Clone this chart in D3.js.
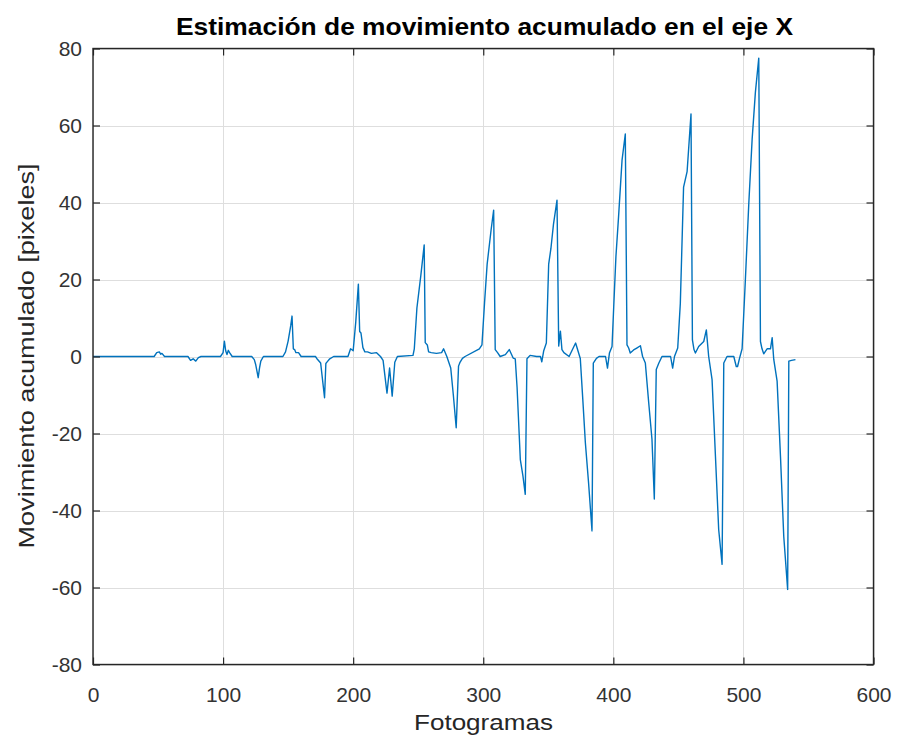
<!DOCTYPE html>
<html>
<head>
<meta charset="utf-8">
<script src="https://cdn.jsdelivr.net/npm/d3@7"></script>
<style>
  html, body { margin: 0; padding: 0; background: #ffffff; }
  svg { display: block; }
</style>
</head>
<body>
<svg id="chart" width="898" height="743"></svg>
<script>
// ---- Data ----
const frames = [
  0, 47, 49, 51, 52, 53, 55, 73, 75, 77, 79, 81, 83,
  98, 100, 101, 102, 103, 104, 105, 107, 122, 124, 125, 127, 128, 129, 131,
  146, 148, 150, 152, 153, 154, 155, 156, 158, 160,
  171, 172, 175, 178, 179, 180, 182, 185,
  196, 198, 200, 202, 204, 205, 206, 207.5, 209, 211, 214, 218, 221,
  223, 226, 228, 230, 232, 234,
  246, 247, 249, 252, 254.6, 255.4, 257, 258, 260, 264, 268, 269.5, 272,
  275, 277, 279.2, 281, 282, 284, 286,
  297, 299, 301, 303, 306, 308, 309.2, 311, 313, 317, 320, 323,
  324.6, 326, 328.5, 330.5, 332.3, 333.6, 336, 341, 344, 345, 346.5, 348.5,
  350.3, 352, 354, 356.7, 358, 359.3, 360.5, 362, 366, 371,
  374.6, 376.5, 378.5, 381, 383.6, 384.6, 387, 389, 394, 395.5, 397, 399,
  400.3, 402, 404, 406.7, 409.2, 410.5, 411.8, 413, 415.6, 418, 420.8, 422.5,
  424.6, 427.2, 429.7, 431.5, 433, 435, 437.4, 441, 444, 445.6, 447, 449.5,
  451.5, 454, 456.7, 459.7, 460.8, 462, 463.1, 465.6, 469.5, 471.5,
  473.3, 475.9, 478.5, 481, 483.6, 484.9, 487.4, 492.6, 494.5, 495.5, 497, 499,
  501.5, 504.1, 506.7, 509.2, 511.8, 513.1, 514.3, 515.6, 518.2, 520.8, 522.1,
  523.3, 525.9, 528.5, 531, 534, 534.9, 537, 540
];
const values = [
  0, 0, 1, 1.2, 0.6, 0.8, 0, 0, -1, -0.6, -1.2, -0.3, 0,
  0, 1, 4, 1.5, 0.5, 1.6, 1, 0, 0, -0.8, -2, -5.5, -3, -1.2, 0,
  0, 1.2, 4, 8, 10.5, 2, 1.8, 1, 1, 0,
  0, -0.5, -1.7, -10.7, -1.8, -1.4, -0.6, 0,
  0, 2, 1.5, 9, 18.8, 6.5, 6.1, 2.3, 1.2, 1.2, 0.8, 1, 0,
  -1, -9.5, -3, -10.3, -1.5, 0,
  0.3, 2, 12.6, 21, 29, 3.6, 3, 1.2, 1, 0.8, 1, 2, 0,
  -3, -10, -18.5, -2.5, -1.6, -0.5, 0,
  2, 3, 14, 24, 32.8, 38, 1.8, 1, 0, 0.5, 1.8, -0.4,
  -0.6, -8, -26.8, -31, -35.8, -0.6, 0.3, 0, 0, -1.4, 1.5, 3.5,
  24, 28, 34.4, 40.6, 2.7, 6.6, 1.8, 1, 0, 3.5,
  -0.5, -11, -22.4, -33, -45.3, -1.7, -0.5, 0, 0, -3, 0.9, 2.6,
  12.9, 26, 36.2, 51, 57.8, 3, 2.2, 0.9, 1.7, 2.2, 2.8, 0,
  -1.7, -12, -21.5, -37, -3.4, -1.7, 0, 0, 0, -3, 0, 2.2,
  13.8, 44, 48, 63, 4.3, 1.8, 0.9, 2.6, 3.9, 6.9,
  0, -6, -25.9, -45, -54, -1.7, 0, 0, -2.6, -2.6, -0.5, 2,
  19.9, 39.5, 56.4, 68.6, 77.5, 3.9, 2, 0.7, 2, 2, 4.9,
  -0.7, -6.4, -26, -46.7, -60.5, -1.2, -1, -0.8
];
const xTicks = [0, 100, 200, 300, 400, 500, 600];
const yTicks = [-80, -60, -40, -20, 0, 20, 40, 60, 80];
const titleText = "Estimación de movimiento acumulado en el eje X";
const xLabelText = "Fotogramas";
const yLabelText = "Movimiento acumulado [pixeles]";

// ---- Layout ----
const svg = d3.select("#chart");
const L = 93, R = 873.5, T = 48.5, B = 664.5;
const x = d3.scaleLinear().domain([0, 600]).range([L, R]);
const y = d3.scaleLinear().domain([-80, 80]).range([B, T]);
const axisColor = "#262626";
const font = "'Liberation Sans', Arial, Helvetica, sans-serif";
const fmt = d => String(d);

// grid
const grid = svg.append("g");
grid.selectAll("line.gx").data(xTicks).enter().append("line")
  .attr("x1", d => Math.round(x(d)) + 0.5).attr("x2", d => Math.round(x(d)) + 0.5)
  .attr("y1", T).attr("y2", B)
  .attr("stroke", "#dedede").attr("stroke-width", 1);
grid.selectAll("line.gy").data(yTicks).enter().append("line")
  .attr("y1", d => Math.round(y(d)) + 0.5).attr("y2", d => Math.round(y(d)) + 0.5)
  .attr("x1", L).attr("x2", R)
  .attr("stroke", "#dedede").attr("stroke-width", 1);

// data line
const lineGen = d3.line().x(d => x(d[0])).y(d => y(d[1]));
svg.append("path")
  .datum(frames.map((f, i) => [f, values[i]]))
  .attr("d", lineGen)
  .attr("fill", "none")
  .attr("stroke", "#0072BD")
  .attr("stroke-width", 1.4)
  .attr("stroke-linejoin", "round");

// axes with inward ticks
const tickLen = 7;
const xAxisB = d3.axisBottom(x).tickValues(xTicks).tickFormat(fmt).tickSizeInner(-tickLen).tickSizeOuter(0).tickPadding(21);
const xAxisT = d3.axisTop(x).tickValues(xTicks).tickSizeInner(-tickLen).tickSizeOuter(0).tickFormat("");
const yAxisL = d3.axisLeft(y).tickValues(yTicks).tickFormat(fmt).tickSizeInner(-tickLen).tickSizeOuter(0).tickPadding(11);
const yAxisR = d3.axisRight(y).tickValues(yTicks).tickSizeInner(-tickLen).tickSizeOuter(0).tickFormat("");

function styleAxis(g) {
  g.select(".domain").remove();
  g.selectAll(".tick line").attr("stroke", axisColor).attr("stroke-width", 1.2);
  g.selectAll(".tick text").attr("fill", "#333333").style("font-family", font).style("font-size", "21px");
}
const gxb = svg.append("g").attr("transform", `translate(0,${B})`).call(xAxisB).call(styleAxis);
gxb.selectAll(".tick text").attr("dy", null).attr("y", 701.5 - B);
svg.append("g").attr("transform", `translate(0,${T})`).call(xAxisT).call(styleAxis);
svg.append("g").attr("transform", `translate(${L},0)`).call(yAxisL).call(styleAxis);
svg.append("g").attr("transform", `translate(${R},0)`).call(yAxisR).call(styleAxis);

// box
svg.append("rect")
  .attr("x", L).attr("y", T).attr("width", R - L).attr("height", B - T)
  .attr("fill", "none").attr("stroke", axisColor).attr("stroke-width", 1.4);

// title & labels
svg.append("text")
  .attr("x", 484.5).attr("y", 34.5)
  .attr("text-anchor", "middle")
  .attr("textLength", 617).attr("lengthAdjust", "spacingAndGlyphs")
  .style("font-family", font).style("font-weight", "bold").style("font-size", "24.5px")
  .attr("fill", "#000")
  .text(titleText);
svg.append("text")
  .attr("x", 483.5).attr("y", 729.5)
  .attr("text-anchor", "middle")
  .attr("textLength", 139).attr("lengthAdjust", "spacingAndGlyphs")
  .style("font-family", font).style("font-size", "22.5px")
  .attr("fill", "#262626")
  .text(xLabelText);
svg.append("text")
  .attr("transform", `translate(33.5,${356}) rotate(-90)`)
  .attr("text-anchor", "middle")
  .attr("textLength", 385).attr("lengthAdjust", "spacingAndGlyphs")
  .style("font-family", font).style("font-size", "22.5px")
  .attr("fill", "#262626")
  .text(yLabelText);
</script>
</body>
</html>
